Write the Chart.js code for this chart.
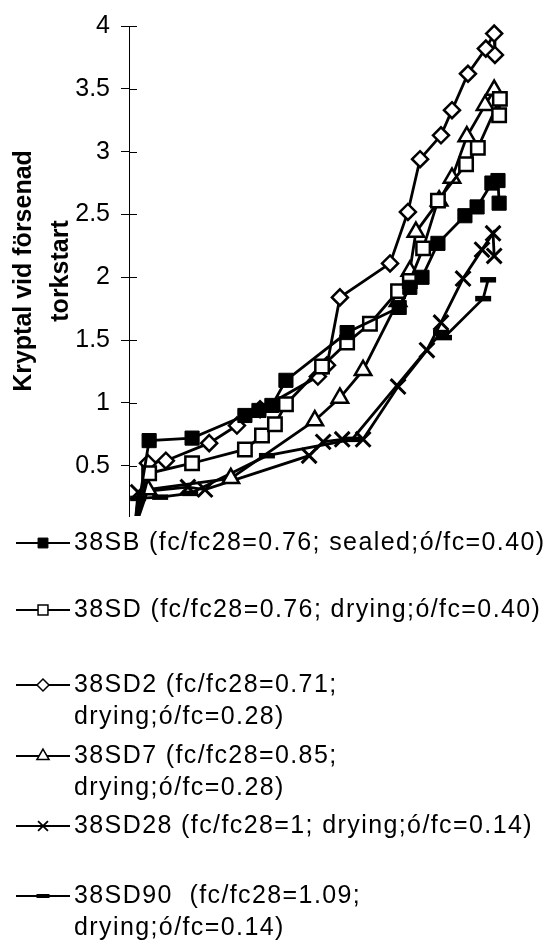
<!DOCTYPE html>
<html lang="sv">
<head>
<meta charset="utf-8">
<title>Kryptal vid försenad torkstart</title>
<script src="https://cdn.jsdelivr.net/npm/chart.js@4/dist/chart.umd.min.js"></script>
<style>
  html, body { margin: 0; padding: 0; background: #fff; }
  #wrap { position: relative; width: 553px; height: 947px; }
</style>
</head>
<body>
<div id="wrap"><canvas id="kryptal"></canvas></div>
<script>
// tid (godtycklig skala 0-100) och kryptal per serie
const xSB   = [1.5, 5.3, 16.6, 30.5, 34.2, 37.6, 41.3, 57.4, 71.1, 73.9, 77.1, 81.3, 88.4, 91.6, 95.5, 97.1, 97.4];
const ySB   = [0, 0.70, 0.72, 0.90, 0.94, 0.98, 1.18, 1.56, 1.76, 1.92, 2.00, 2.27, 2.49, 2.56, 2.75, 2.77, 2.59];
const xSD   = [1.5, 5.3, 16.6, 30.5, 35.0, 38.4, 41.3, 50.8, 57.4, 63.4, 70.8, 73.9, 77.4, 81.3, 88.7, 91.8, 97.6, 97.4];
const ySD   = [0, 0.44, 0.52, 0.63, 0.74, 0.83, 0.99, 1.29, 1.48, 1.63, 1.89, 1.97, 2.23, 2.61, 2.90, 3.03, 3.42, 3.29];
const xSD2  = [1.5, 5.0, 9.7, 21.1, 28.4, 34.5, 49.7, 52.1, 55.5, 68.7, 73.4, 76.6, 82.1, 85.0, 89.2, 93.9, 96.1, 96.3];
const ySD2  = [0, 0.52, 0.54, 0.68, 0.82, 0.95, 1.21, 1.30, 1.84, 2.11, 2.52, 2.94, 3.13, 3.33, 3.62, 3.82, 3.94, 3.77];
const xSD7  = [1.5, 5.0, 26.8, 48.9, 55.5, 61.6, 70.8, 73.9, 75.5, 81.6, 85.0, 88.9, 93.7, 96.1];
const ySD7  = [0, 0.31, 0.40, 0.86, 1.04, 1.26, 1.81, 2.05, 2.36, 2.61, 2.79, 3.12, 3.37, 3.49];
const xSD28 = [1.5, 2.4, 15.5, 20.0, 47.4, 51.1, 56.1, 61.6, 70.8, 78.4, 82.1, 87.9, 92.9, 95.8, 96.1];
const ySD28 = [0, 0.29, 0.33, 0.31, 0.58, 0.69, 0.71, 0.71, 1.13, 1.42, 1.64, 1.99, 2.22, 2.35, 2.17];
const xSD90 = [1.5, 2.4, 8.2, 16.1, 36.3, 58.7, 82.1, 82.9, 93.2, 94.5];
const ySD90 = [0, 0.24, 0.25, 0.28, 0.58, 0.71, 1.56, 1.52, 1.83, 1.98];

const yTicks = [0.5, 1, 1.5, 2, 2.5, 3, 3.5, 4];

const seriesLabels = [
  '38SB (fc/fc28=0.76; sealed;ó/fc=0.40)',
  '38SD (fc/fc28=0.76; drying;ó/fc=0.40)',
  '38SD2 (fc/fc28=0.71;\ndrying;ó/fc=0.28)',
  '38SD7 (fc/fc28=0.85;\ndrying;ó/fc=0.28)',
  '38SD28 (fc/fc28=1; drying;ó/fc=0.14)',
  '38SD90  (fc/fc28=1.09;\ndrying;ó/fc=0.14)'
];

const FONT = '"Liberation Sans", Arial, sans-serif';

function points(xs, ys) {
  return xs.map((x, i) => ({ x: x, y: ys[i] }));
}

function series(label, xs, ys, style, radius, fill, pointBorder, legendRadius, legendBorder) {
  return {
    label: label,
    data: points(xs, ys),
    borderColor: '#000',
    borderWidth: 2.8,
    tension: 0,
    pointStyle: style,
    pointRadius: radius,
    pointBackgroundColor: fill,
    pointBorderColor: '#000',
    pointBorderWidth: pointBorder,
    clip: { left: 0, top: 12, right: 12, bottom: 0 },
    legendMarker: { radius: legendRadius, borderWidth: legendBorder }
  };
}

// tick marks crossing into the plot area
const crossTicks = {
  id: 'crossTicks',
  beforeDatasetsDraw(chart) {
    const s = chart.scales.y;
    const ctx = chart.ctx;
    ctx.save();
    ctx.strokeStyle = '#000';
    ctx.lineWidth = 1;
    s.ticks.forEach(t => {
      const py = Math.round(s.getPixelForValue(t.value)) + 0.5;
      ctx.beginPath();
      ctx.moveTo(s.right, py);
      ctx.lineTo(s.right + 8, py);
      ctx.stroke();
    });
    ctx.restore();
  }
};

// legend stacked under the plot, one entry per row
const bottomLegend = {
  id: 'bottomLegend',
  afterDraw(chart, args, opts) {
    const ctx = chart.ctx;
    ctx.save();
    ctx.font = opts.font;
    if ('letterSpacing' in ctx) ctx.letterSpacing = opts.letterSpacing;
    ctx.textBaseline = 'middle';
    ctx.textAlign = 'left';
    chart.data.datasets.forEach((ds, i) => {
      const y = opts.rows[i];
      ctx.strokeStyle = '#000';
      ctx.lineWidth = opts.lineWidth;
      ctx.beginPath();
      ctx.moveTo(opts.lineStart, y);
      ctx.lineTo(opts.lineEnd, y);
      ctx.stroke();

      const m = ds.legendMarker;
      ctx.fillStyle = ds.pointBackgroundColor;
      ctx.lineWidth = m.borderWidth;
      Chart.helpers.drawPoint(ctx, {
        pointStyle: ds.pointStyle, radius: m.radius, rotation: 0, borderWidth: m.borderWidth
      }, (opts.lineStart + opts.lineEnd) / 2, y);

      ctx.fillStyle = '#000';
      ds.label.split('\n').forEach((line, k) => {
        ctx.fillText(line, opts.textX, y + k * opts.lineGap);
      });
    });
    ctx.restore();
  }
};

const chart = new Chart(document.getElementById('kryptal'), {
  type: 'line',
  data: {
    datasets: [
      series(seriesLabels[0], xSB, ySB, 'rect', 10, '#000', 1, 7, 1),
      series(seriesLabels[1], xSD, ySD, 'rect', 9.5, '#fff', 2.5, 7, 1.5),
      series(seriesLabels[2], xSD2, ySD2, 'rectRot', 8, '#fff', 2.5, 6, 1.5),
      series(seriesLabels[3], xSD7, ySD7, 'triangle', 9.5, '#fff', 2.5, 7, 1.5),
      series(seriesLabels[4], xSD28, ySD28, 'crossRot', 10.5, '#fff', 3, 7, 1.8),
      series(seriesLabels[5], xSD90, ySD90, 'line', 8, '#000', 5.5, 6.5, 4)
    ]
  },
  options: {
    responsive: true,
    maintainAspectRatio: false,
    animation: false,
    events: [],
    layout: { padding: { left: 0, top: 25, right: 44, bottom: 431 } },
    scales: {
      x: { type: 'linear', min: 0, max: 100, display: false },
      y: {
        min: 0.1,
        max: 4,
        afterBuildTicks: axis => { axis.ticks = yTicks.map(v => ({ value: v })); },
        afterFit: axis => { axis.width = 129; },
        border: { display: true, color: '#000', width: 1 },
        grid: { drawOnChartArea: false, drawTicks: true, tickLength: 8, color: '#000', lineWidth: 1 },
        ticks: {
          color: '#000',
          padding: 11,
          font: { family: FONT, size: 25 },
          callback: v => String(v)
        },
        title: {
          display: true,
          text: ['Kryptal vid försenad', 'torkstart'],
          color: '#000',
          font: { family: FONT, size: 25, weight: 'bold', lineHeight: 1.48 },
          padding: { top: 6, bottom: 0 }
        }
      }
    },
    plugins: {
      legend: { display: false },
      tooltip: { enabled: false },
      bottomLegend: {
        rows: [543, 610, 685, 756, 826, 896],
        lineGap: 32,
        lineStart: 16,
        lineEnd: 70,
        lineWidth: 1.8,
        textX: 74,
        font: '25px ' + FONT,
        letterSpacing: '1.4px'
      }
    }
  },
  plugins: [crossTicks, bottomLegend]
});
</script>
</body>
</html>
